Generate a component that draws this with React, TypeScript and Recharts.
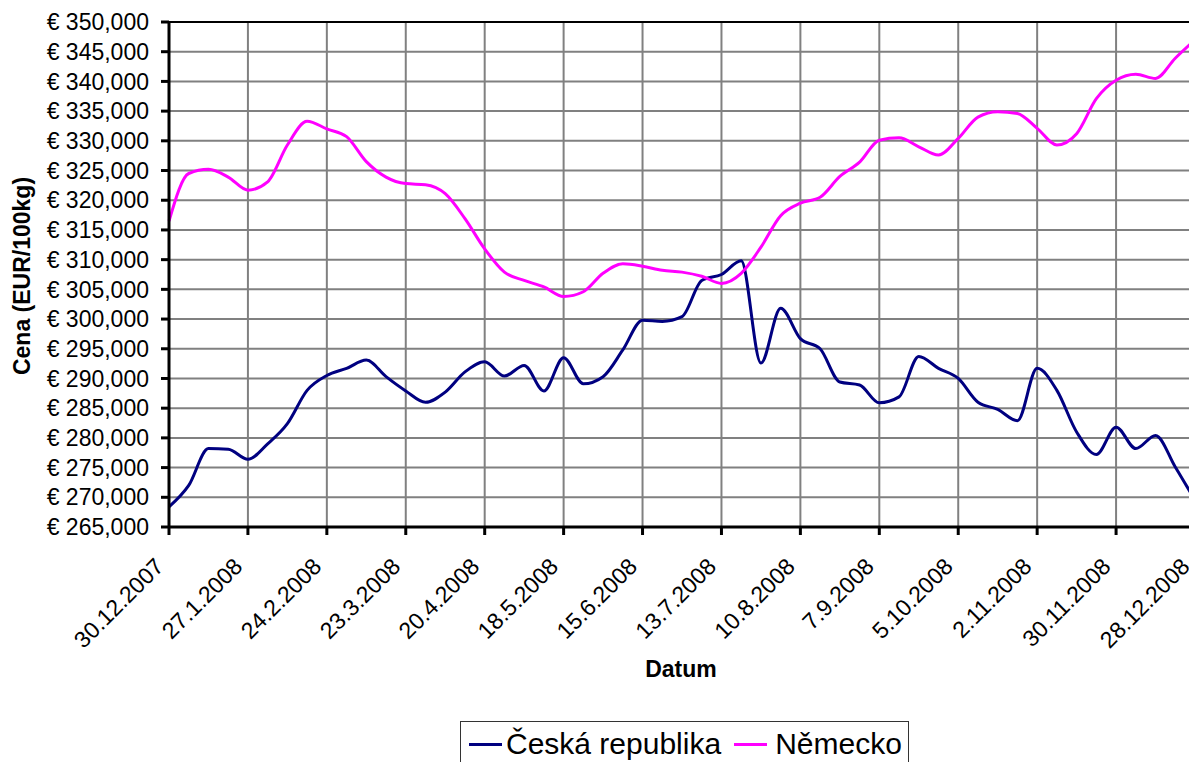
import React from "react";
import { LineChart, Line, XAxis, YAxis, CartesianGrid, ReferenceLine } from "recharts";

// weekly prices, EUR/100kg
const dates = [
  "30.12.2007", "6.1.2008", "13.1.2008", "20.1.2008", "27.1.2008", "3.2.2008", "10.2.2008",
  "17.2.2008", "24.2.2008", "2.3.2008", "9.3.2008", "16.3.2008", "23.3.2008", "30.3.2008",
  "6.4.2008", "13.4.2008", "20.4.2008", "27.4.2008", "4.5.2008", "11.5.2008", "18.5.2008",
  "25.5.2008", "1.6.2008", "8.6.2008", "15.6.2008", "22.6.2008", "29.6.2008", "6.7.2008",
  "13.7.2008", "20.7.2008", "27.7.2008", "3.8.2008", "10.8.2008", "17.8.2008", "24.8.2008",
  "31.8.2008", "7.9.2008", "14.9.2008", "21.9.2008", "28.9.2008", "5.10.2008", "12.10.2008",
  "19.10.2008", "26.10.2008", "2.11.2008", "9.11.2008", "16.11.2008", "23.11.2008",
  "30.11.2008", "7.12.2008", "14.12.2008", "21.12.2008", "28.12.2008",
];

const czech = [
  268400, 272000, 278200, 278100, 276400, 279000, 282400, 288000, 290500, 291700,
  293100, 290300, 287900, 286000, 287700, 291100, 292800, 290400, 292200, 287900,
  293500, 289100, 290300, 294800, 299800, 299600, 300400, 306500, 307500, 309800,
  292600, 301800, 296700, 295000, 289400, 288900, 285900, 286900, 293700, 291700,
  290000, 286000, 284800, 282900, 291700, 288000, 281000, 277200, 281800, 278200,
  280400, 275100, 269500,
];

const germany = [
  316500, 324500, 325200, 323900, 321700, 323100, 329300, 333300, 332000, 330700,
  326500, 323900, 322800, 322600, 321100, 316900, 311800, 307900, 306500, 305400,
  303800, 304600, 307700, 309300, 308900, 308200, 307900, 307200, 306000, 307700,
  312100, 317400, 319500, 320500, 324000, 326400, 330100, 330500, 329000, 327600,
  330400, 334000, 334900, 334600, 332100, 329300, 331200, 337100, 340200, 341200,
  340500, 343900, 347000,
];

const yTicks = [
  265000, 270000, 275000, 280000, 285000, 290000, 295000, 300000, 305000,
  310000, 315000, 320000, 325000, 330000, 335000, 340000, 345000, 350000,
];
const xTicks = [0, 4, 8, 12, 16, 20, 24, 28, 32, 36, 40, 44, 48, 52];

const series = [
  { key: "cz", name: "Česká republika", color: "#000080" },
  { key: "de", name: "Německo", color: "#FF00FF" },
];

const data = dates.map((d, i) => ({ i, date: d, cz: czech[i], de: germany[i] }));

const font = '"Liberation Sans", Arial, sans-serif';

const DateTick = (props: any) => {
  const { x, y, payload } = props;
  const ax = x - 4;
  const ay = y + 31;
  return (
    <text
      x={ax}
      y={ay}
      transform={`rotate(-45 ${ax} ${ay})`}
      textAnchor="end"
      fontSize={23}
      fontFamily={font}
      fill="#000"
    >
      {dates[payload.value]}
    </text>
  );
};

const YTitle = () => (
  <text
    x={22}
    y={276}
    transform="rotate(-90 22 276)"
    textAnchor="middle"
    dominantBaseline="central"
    fontSize={23}
    fontWeight="bold"
    fontFamily={font}
    fill="#000"
  >
    Cena (EUR/100kg)
  </text>
);

const XTitle = () => (
  <text x={681} y={677} textAnchor="middle" fontSize={23} fontWeight="bold" fontFamily={font} fill="#000">
    Datum
  </text>
);

const fmtEuro = (v: number) => "€ " + v.toLocaleString("en-US");

export default function App() {
  return (
    <div
      style={{
        position: "fixed",
        top: 0,
        left: 0,
        width: 1189,
        height: 762,
        overflow: "hidden",
        background: "#fff",
      }}
    >
      <LineChart width={1200} height={762} data={data} margin={{ top: 22, right: 5, bottom: 0, left: 0 }}>
        <CartesianGrid stroke="#808080" strokeWidth={2} />
        <XAxis
          dataKey="i"
          type="number"
          domain={[0, 52]}
          ticks={xTicks}
          interval={0}
          height={235}
          tick={<DateTick />}
          tickSize={8}
          axisLine={{ stroke: "#000", strokeWidth: 3 }}
          tickLine={{ stroke: "#000", strokeWidth: 3 }}
          label={<XTitle />}
        />
        <YAxis
          type="number"
          domain={[265000, 350000]}
          ticks={yTicks}
          interval={0}
          width={169}
          tickFormatter={fmtEuro}
          tickSize={8}
          tickMargin={12}
          tick={{ fontSize: 23, fontFamily: font, fill: "#000" }}
          axisLine={{ stroke: "#000", strokeWidth: 3 }}
          tickLine={{ stroke: "#000", strokeWidth: 3 }}
          label={<YTitle />}
        />
        <ReferenceLine y={350000} stroke="#000" strokeWidth={2} />
        {series.map((s) => (
          <Line
            key={s.key}
            type="monotone"
            dataKey={s.key}
            name={s.name}
            stroke={s.color}
            strokeWidth={3}
            dot={false}
            isAnimationActive={false}
          />
        ))}
      </LineChart>
      <div
        style={{
          position: "absolute",
          left: 460,
          top: 721,
          width: 447,
          height: 60,
          border: "1px solid #333",
          background: "#fff",
          fontFamily: font,
          fontSize: 30,
        }}
      >
        <div style={{ display: "flex", alignItems: "center", height: 30, marginTop: 7, lineHeight: "30px" }}>
          {series.map((s, idx) => (
            <div key={s.key} style={{ display: "flex", alignItems: "center", marginLeft: idx === 0 ? 8 : 13 }}>
              <span style={{ display: "inline-block", width: 33, height: 3, background: s.color }} />
              <span style={{ marginLeft: idx === 0 ? 4 : 8, color: "#000" }}>{s.name}</span>
            </div>
          ))}
        </div>
      </div>
    </div>
  );
}
